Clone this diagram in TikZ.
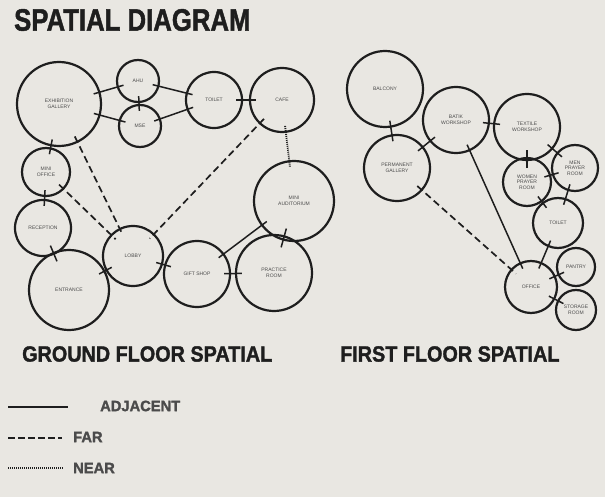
\documentclass[tikz,border=0pt]{standalone}
\usepackage{fontspec}
\setmainfont{Liberation Sans}
\newfontfamily\headfont{Liberation Sans}[BoldFeatures={FakeBold=1.6}]
\usepackage{xcolor}
\usetikzlibrary{positioning}

\definecolor{paper}{RGB}{233,231,226}
\definecolor{ink}{RGB}{30,30,30}
\definecolor{labelgray}{RGB}{75,75,75}

\tikzset{
  room/.style={circle, draw=ink, line width=2.2pt, inner sep=0pt,
    align=center, text=labelgray, font=\fontsize{5}{5.6}\selectfont},
  adj/.style={draw=ink, line width=1.5pt, shorten >=-7pt, shorten <=-7pt},
  far/.style={adj, line width=1.7pt, dash pattern=on 7pt off 4pt},
  near/.style={adj, line width=1.8pt, dash pattern=on 1pt off 1pt},
  heading/.style={font=\headfont\bfseries\fontsize{22}{22}\selectfont, text=ink, inner sep=0pt,
    xscale=0.9, transform shape},
  keytext/.style={font=\headfont\bfseries\fontsize{15}{15}\selectfont, text=ink!80, inner sep=0pt,
    anchor=west, xscale=0.98, transform shape}
}

\begin{document}
\begin{tikzpicture}[x=1pt, y=-1pt]
   \fill[paper] (0,0) rectangle (605,497);
   \useasboundingbox (0,0) rectangle (605,497);

   % title
   \node[font=\headfont\bfseries\fontsize{31}{31}\selectfont, text=ink, anchor=west, inner sep=0pt,
     xscale=0.83, transform shape] (title) at (14,20) {SPATIAL DIAGRAM};

   % ground floor
   \node[room, minimum size=84pt] (exh) at (59,104) {EXHIBITION\\GALLERY};
   \node[room, minimum size=42pt] (ahu) at (138,81) {AHU};
   \node[room, minimum size=42pt] (mse) at (140,126) {MSE};
   \node[room, minimum size=56pt] (toiletg) at (214,100) {TOILET};
   \node[room, minimum size=64pt] (cafe) at (282,100) {CAFE};
   \node[room, minimum size=48pt] (moffice) at (46,172) {MINI\\OFFICE};
   \node[room, minimum size=56pt] (recep) at (43,228) {RECEPTION};
   \node[room, minimum size=80pt] (entr) at (69,290) {ENTRANCE};
   \node[room, minimum size=60pt] (lobby) at (133,256) {LOBBY};
   \node[room, minimum size=66pt] (gift) at (197,274) {GIFT SHOP};
   \node[room, minimum size=80pt] (maud) at (294,201) {MINI\\AUDITORIUM};
   \node[room, minimum size=76pt] (pract) at (274,273) {PRACTICE\\ROOM};

   % first floor
   \node[room, minimum size=76pt] (balc) at (385,89) {BALCONY};
   \node[room, minimum size=66pt] (perm) at (397,168) {PERMANENT\\GALLERY};
   \node[room, minimum size=66pt] (batik) at (456,120) {BATIK\\WORKSHOP};
   \node[room, minimum size=66pt] (text) at (527,127) {TEXTILE\\WORKSHOP};
   \node[room, minimum size=48pt] (women) at (527,182) {WOMEN\\PRAYER\\ROOM};
   \node[room, minimum size=46pt] (men) at (575,168) {MEN\\PRAYER\\ROOM};
   \node[room, minimum size=50pt] (toiletf) at (558,223) {TOILET};
   \node[room, minimum size=52pt] (office) at (531,287) {OFFICE};
   \node[room, minimum size=38pt] (pantry) at (576,267) {PANTRY};
   \node[room, minimum size=40pt] (store) at (576,310) {STORAGE\\ROOM};

   \path
    % ground floor links
    (exh) edge[adj] (ahu)
    (exh) edge[adj] (mse)
    (ahu) edge[adj] (mse)
    (ahu) edge[adj] (toiletg)
    (mse) edge[adj] (toiletg)
    (toiletg) edge[adj] (cafe)
    (cafe) edge[near] (maud)
    (cafe) edge[far] (lobby)
    (exh) edge[far] (lobby)
    (moffice) edge[far] (lobby)
    (exh) edge[adj] (moffice)
    (moffice) edge[adj] (recep)
    (recep) edge[adj] (entr)
    (entr) edge[adj] (lobby)
    (lobby) edge[adj] (gift)
    (gift) edge[adj] (maud)
    (gift) edge[adj] (pract)
    (maud) edge[adj] (pract)
    % first floor links
    (balc) edge[adj] (perm)
    (perm) edge[adj] (batik)
    (batik) edge[adj] (text)
    (batik) edge[adj] (office)
    (perm) edge[far] (office)
    (text) edge[adj] (women)
    (text) edge[adj] (men)
    (women) edge[adj] (men)
    (men) edge[adj] (toiletf)
    (women) edge[adj] (toiletf)
    (toiletf) edge[adj] (office)
    (office) edge[adj] (pantry)
    (office) edge[adj] (store)
    ;

   % captions
   \node[heading, anchor=west] (gcap) at (22,354) {GROUND FLOOR SPATIAL};
   \node[heading, anchor=west] (fcap) at (340,354) {FIRST FLOOR SPATIAL};

   % key
   \coordinate (k1a) at (8,407);  \coordinate (k1b) at (68,407);
   \coordinate (k2a) at (8,438);  \coordinate (k2b) at (62,438);
   \coordinate (k3a) at (8,468);  \coordinate (k3b) at (63,468);
   \draw[ink, line width=1.8pt] (k1a) -- (k1b);
   \draw[ink, line width=1.6pt, dash pattern=on 7pt off 3pt] (k2a) -- (k2b);
   \draw[ink, line width=1.6pt, dash pattern=on 1pt off 1pt] (k3a) -- (k3b);
   \node[keytext] (kadj) at (100,406) {ADJACENT};
   \node[keytext] (kfar) at (73,437) {FAR};
   \node[keytext] (knear) at (73,468) {NEAR};
\end{tikzpicture}
\end{document}
